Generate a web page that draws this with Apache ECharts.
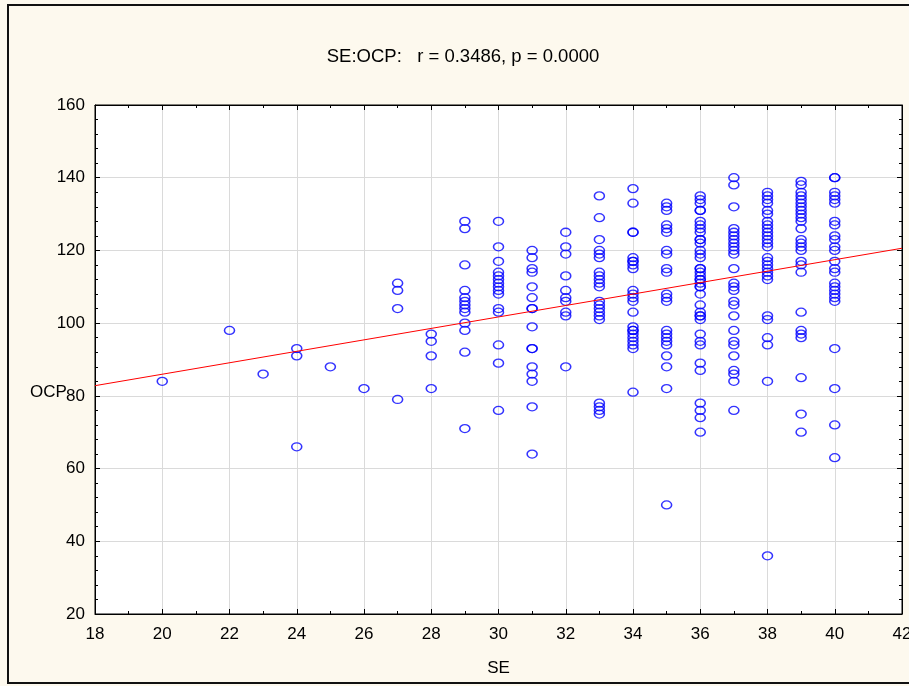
<!DOCTYPE html>
<html>
<head>
<meta charset="utf-8">
<script src="https://cdn.jsdelivr.net/npm/echarts@6/dist/echarts.min.js"></script>
<style>
  html, body { margin: 0; padding: 0; background: #fdf9ee; }
  #chart { width: 909px; height: 686px; }
</style>
</head>
<body>
<div id="chart"></div>
<script>
// ---- data ----
const titleText = 'SE:OCP:   r = 0.3486, p = 0.0000';
const xName = 'SE';
const yName = 'OCP';
const xTicks = [18, 20, 22, 24, 26, 28, 30, 32, 34, 36, 38, 40, 42];
const yTicks = [20, 40, 60, 80, 100, 120, 140, 160];

const seLevels = [20, 22, 23, 24, 25, 26, 27, 28, 29, 30, 31, 32, 33, 34, 35, 36, 37, 38, 39, 40];
const ocp20 = [84];
const ocp22 = [98];
const ocp23 = [86];
const ocp24 = [93, 91, 66];
const ocp25 = [88];
const ocp26 = [82];
const ocp27 = [111, 109, 104, 79];
const ocp28 = [97, 95, 91, 82];
const ocp29 = [128, 126, 116, 109, 107, 106, 105, 104, 103, 100, 98, 92, 71];
const ocp30 = [128, 121, 117, 114, 113, 112, 111, 110, 109, 108, 104, 103, 94, 89, 76];
const ocp31 = [120, 118, 115, 114, 110, 107, 104, 104, 99, 93, 93, 88, 86, 84, 77, 64];
const ocp32 = [125, 121, 119, 113, 109, 107, 106, 103, 102, 88];
const ocp33 = [135, 129, 123, 120, 119, 118, 114, 113, 112, 111, 110, 106, 105, 104, 103, 102, 101, 78, 77, 76, 75];
const ocp34 = [137, 133, 125, 125, 118, 117, 117, 116, 115, 109, 108, 107, 106, 103, 99, 98, 98, 97, 96, 95, 94, 93, 81];
const ocp35 = [133, 132, 131, 127, 126, 125, 120, 119, 115, 114, 108, 107, 106, 98, 97, 96, 95, 94, 91, 88, 82, 50];
const ocp36 = [135, 134, 133, 131, 131, 128, 127, 126, 125, 123, 123, 122, 120, 119, 118, 115, 115, 114, 113, 112, 112, 111, 110, 110, 108, 105, 103, 102, 102, 101, 97, 95, 94, 89, 87, 78, 76, 74, 70];
const ocp37 = [140, 138, 132, 126, 125, 124, 123, 122, 121, 120, 119, 115, 111, 110, 109, 106, 105, 102, 98, 95, 94, 91, 87, 86, 84, 76];
const ocp38 = [136, 135, 134, 133, 131, 130, 128, 127, 126, 125, 124, 123, 122, 121, 118, 117, 116, 115, 114, 113, 112, 102, 101, 96, 94, 84, 36];
const ocp39 = [139, 138, 136, 135, 134, 133, 132, 131, 130, 129, 128, 126, 123, 122, 121, 120, 117, 116, 114, 103, 98, 97, 96, 85, 75, 70];
const ocp40 = [140, 140, 136, 135, 134, 133, 128, 127, 124, 123, 121, 120, 117, 115, 114, 111, 110, 109, 108, 107, 106, 93, 82, 72, 63];
const ocpByLevel = [ocp20, ocp22, ocp23, ocp24, ocp25, ocp26, ocp27, ocp28, ocp29, ocp30,
                    ocp31, ocp32, ocp33, ocp34, ocp35, ocp36, ocp37, ocp38, ocp39, ocp40];

// regression line end points (as drawn in the reference)
const regX = [18, 42];
const regY = [82.8, 120.6];

// ---- build ----
const points = [];
seLevels.forEach((se, i) => ocpByLevel[i].forEach(v => points.push([se, v])));
const regLine = regX.map((x, i) => [x, regY[i]]);

const FONT = "'Liberation Sans', Arial, sans-serif";
const plot = { left: 95, top: 105, right: 7, bottom: 72 };

const chart = echarts.init(document.getElementById('chart'), null, { renderer: 'canvas' });

const tickCommon = { show: true, inside: true, length: 5, lineStyle: { color: '#000', width: 1 } };
const minorCommon = { show: true, length: 3, lineStyle: { color: '#000', width: 1 } };

chart.setOption({
  backgroundColor: '#fdf9ee',
  animation: false,
  graphic: [
    { type: 'rect', shape: { x: 8, y: 5, width: 920, height: 678 }, style: { fill: 'none', stroke: '#111', lineWidth: 2 }, z: 100 },
    { type: 'text', x: 463, y: 57, style: { text: titleText, font: '18.5px ' + FONT, fill: '#000', textAlign: 'center', textVerticalAlign: 'middle' } },
    { type: 'text', x: 30, y: 392, style: { text: yName, font: '17px ' + FONT, fill: '#000', textAlign: 'left', textVerticalAlign: 'middle' }, z: 50 }
  ],
  grid: {
    left: plot.left, top: plot.top, right: plot.right, bottom: plot.bottom,
    containLabel: false, outerBoundsMode: 'none',
    show: true, backgroundColor: '#ffffff', borderColor: '#000', borderWidth: 1
  },
  xAxis: [
    {
      type: 'value', min: xTicks[0], max: xTicks[xTicks.length - 1], interval: 2,
      name: xName, nameLocation: 'middle', nameGap: 46,
      nameTextStyle: { fontFamily: FONT, fontSize: 17, color: '#000' },
      axisLine: { show: true, lineStyle: { color: '#000' } },
      axisTick: tickCommon,
      minorTick: Object.assign({ splitNumber: 2 }, minorCommon),
      axisLabel: { fontFamily: FONT, fontSize: 17, color: '#000', margin: 12, showMaxLabel: true, showMinLabel: true, hideOverlap: false },
      splitLine: { show: true, lineStyle: { color: '#dadada', width: 1 } }
    },
    {
      type: 'value', position: 'top', min: xTicks[0], max: xTicks[xTicks.length - 1], interval: 2,
      axisLine: { show: true, lineStyle: { color: '#000' } },
      axisTick: tickCommon,
      minorTick: Object.assign({ splitNumber: 2 }, minorCommon),
      axisLabel: { show: false }, splitLine: { show: false }
    }
  ],
  yAxis: [
    {
      type: 'value', min: yTicks[0], max: yTicks[yTicks.length - 1], interval: 20,
      axisLine: { show: true, lineStyle: { color: '#000' } },
      axisTick: tickCommon,
      minorTick: Object.assign({ splitNumber: 5 }, minorCommon),
      axisLabel: { fontFamily: FONT, fontSize: 17, color: '#000', margin: 10 },
      splitLine: { show: true, lineStyle: { color: '#dadada', width: 1 } }
    },
    {
      type: 'value', position: 'right', min: yTicks[0], max: yTicks[yTicks.length - 1], interval: 20,
      axisLine: { show: true, lineStyle: { color: '#000' } },
      axisTick: tickCommon,
      minorTick: Object.assign({ splitNumber: 5 }, minorCommon),
      axisLabel: { show: false }, splitLine: { show: false }
    }
  ],
  series: [
    {
      type: 'scatter', name: 'OCP', data: points,
      symbol: 'circle', symbolSize: [10, 8],
      itemStyle: { color: 'rgba(0,0,0,0)', borderColor: '#0000ff', borderWidth: 1.4 },
      z: 3
    },
    {
      type: 'line', data: regLine, symbol: 'none',
      lineStyle: { color: '#ff0000', width: 1 }, z: 4, clip: true
    }
  ]
});
</script>
</body>
</html>
